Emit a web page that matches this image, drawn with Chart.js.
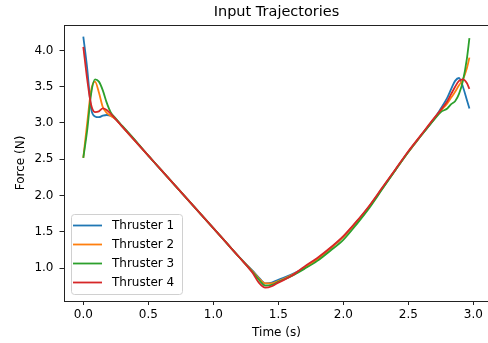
<!DOCTYPE html>
<html>
<head>
<meta charset="utf-8">
<script src="https://cdn.jsdelivr.net/npm/chart.js@4"></script>
<style>
    html, body { margin: 0; padding: 0; background: #fff; overflow: hidden; }
    #wrap { width: 488px; height: 343px; overflow: hidden; }
</style>
</head>
<body>
<div id="wrap"><canvas id="trajChart" width="552" height="343"></canvas></div>
<script>
// time stamps (s)
const times = [0, 0.03, 0.06, 0.09, 0.12, 0.15, 0.18, 0.21,
    0.25, 0.3, 0.4, 0.5, 0.6, 0.7, 0.8, 0.9, 1.0, 1.1, 1.2, 1.3,
    1.35, 1.4, 1.45, 1.5, 1.6, 1.7, 1.8, 1.9, 2.0, 2.1, 2.2, 2.3, 2.4, 2.5, 2.6, 2.7, 2.75,
    2.8, 2.83, 2.86, 2.89, 2.92, 2.95, 2.97];

// force per thruster (N)
const thruster1 = [4.19, 3.75, 3.2, 3.09, 3.08, 3.1, 3.11, 3.1,
    3.05, 2.95, 2.75, 2.55, 2.35, 2.15, 1.95, 1.75, 1.55, 1.35, 1.15, 0.97,
    0.87, 0.79, 0.8, 0.84, 0.91, 1.0, 1.12, 1.27, 1.43, 1.63, 1.85, 2.1, 2.35, 2.6, 2.83, 3.06, 3.2,
    3.35, 3.47, 3.58, 3.62, 3.5, 3.32, 3.2];
const thruster2 = [2.52, 3.0, 3.45, 3.57, 3.42, 3.22, 3.14, 3.1,
    3.05, 2.95, 2.75, 2.55, 2.35, 2.15, 1.95, 1.75, 1.55, 1.35, 1.15, 0.96,
    0.86, 0.79, 0.79, 0.82, 0.9, 1.0, 1.12, 1.27, 1.43, 1.63, 1.85, 2.1, 2.35, 2.6, 2.83, 3.06, 3.17,
    3.27, 3.35, 3.43, 3.52, 3.6, 3.75, 3.9];
const thruster3 = [2.52, 2.9, 3.4, 3.6, 3.57, 3.45, 3.28, 3.15,
    3.06, 2.96, 2.76, 2.55, 2.35, 2.15, 1.95, 1.75, 1.55, 1.35, 1.15, 0.95,
    0.84, 0.76, 0.77, 0.81, 0.89, 0.99, 1.1, 1.24, 1.39, 1.6, 1.83, 2.09, 2.35, 2.6, 2.83, 3.05, 3.15,
    3.2, 3.26, 3.3, 3.4, 3.58, 3.88, 4.17];
const thruster4 = [4.05, 3.6, 3.25, 3.15, 3.16, 3.2, 3.18, 3.13,
    3.05, 2.95, 2.75, 2.55, 2.35, 2.15, 1.95, 1.75, 1.55, 1.35, 1.15, 0.94,
    0.8, 0.73, 0.75, 0.8, 0.89, 1.02, 1.14, 1.28, 1.44, 1.64, 1.86, 2.11, 2.36, 2.61, 2.84, 3.07, 3.18,
    3.3, 3.4, 3.5, 3.58, 3.6, 3.55, 3.47];

const seriesNames = ['Thruster 1', 'Thruster 2', 'Thruster 3', 'Thruster 4'];
const seriesColors = ['#1f77b4', '#ff7f0e', '#2ca02c', '#d62728'];
const xTicks = [0, 0.5, 1.0, 1.5, 2.0, 2.5, 3.0];
const yTicks = [1.0, 1.5, 2.0, 2.5, 3.0, 3.5, 4.0];
const chartTitle = 'Input Trajectories';

Chart.defaults.font.family = "'DejaVu Sans', sans-serif";
Chart.defaults.font.size = 12;
Chart.defaults.color = '#000';

// title centred over the (uncropped) axes + top spine
const framePlugin = {
    id: 'frame',
    afterDraw(chart) {
        const { ctx, chartArea: a } = chart;
        ctx.save();
        ctx.strokeStyle = '#222';
        ctx.lineWidth = 1;
        ctx.beginPath();
        ctx.moveTo(a.left, Math.round(a.top) + 0.5);
        ctx.lineTo(a.right, Math.round(a.top) + 0.5);
        ctx.stroke();
        ctx.font = "14.5px 'DejaVu Sans', sans-serif";
        ctx.fillStyle = '#000';
        ctx.textAlign = 'center';
        ctx.textBaseline = 'middle';
        ctx.fillText(chartTitle, 276.5, 12.5);
        ctx.restore();
    }
};

// legend box in lower-left corner of the axes
const boxLegend = {
    id: 'boxLegend',
    afterDraw(chart) {
        const { ctx, chartArea: a } = chart;
        const x0 = a.left + 7, y0 = a.bottom - 87, w = 111, h = 80;
        ctx.save();
        ctx.fillStyle = 'rgba(255,255,255,0.8)';
        ctx.strokeStyle = '#d0d0d0';
        ctx.lineWidth = 1;
        ctx.beginPath();
        ctx.roundRect(x0 + 0.5, y0 + 0.5, w, h, 3);
        ctx.fill();
        ctx.stroke();
        ctx.font = "12px 'DejaVu Sans', sans-serif";
        ctx.textBaseline = 'middle';
        ctx.fillStyle = '#000';
        chart.data.datasets.forEach((ds, i) => {
            const y = y0 + 11.5 + i * 19;
            ctx.strokeStyle = ds.borderColor;
            ctx.lineWidth = 1.8;
            ctx.beginPath();
            ctx.moveTo(x0 + 2, y);
            ctx.lineTo(x0 + 31, y);
            ctx.stroke();
            ctx.fillText(ds.label, x0 + 41, y);
        });
        ctx.restore();
    }
};

const allSeries = [thruster1, thruster2, thruster3, thruster4];

new Chart(document.getElementById('trajChart'), {
    type: 'line',
    data: {
        datasets: allSeries.map((s, i) => ({
            label: seriesNames[i],
            data: times.map((t, j) => ({ x: t, y: s[j] })),
            borderColor: seriesColors[i],
            backgroundColor: seriesColors[i],
            borderWidth: 1.8,
            pointRadius: 0,
            cubicInterpolationMode: 'monotone',
            order: 3 - i
        }))
    },
    options: {
        responsive: false,
        animation: false,
        layout: { padding: { top: 25, right: 43 } },
        plugins: {
            legend: { display: false },
            tooltip: { enabled: false },
            title: { display: false }
        },
        scales: {
            x: {
                type: 'linear',
                min: -0.1485,
                max: 3.2745,
                afterFit: s => { s.height = 42; },
                afterBuildTicks: s => { s.ticks = xTicks.map(v => ({ value: v })); },
                ticks: { callback: v => v.toFixed(1), padding: 2.5, maxRotation: 0 },
                grid: { display: true, drawOnChartArea: false, drawTicks: true, tickLength: 4, color: '#222' },
                border: { display: true, color: '#222', width: 1 },
                title: { display: false }
            },
            y: {
                type: 'linear',
                min: 0.547,
                max: 4.35,
                afterFit: s => { s.width = 64; },
                afterBuildTicks: s => { s.ticks = yTicks.map(v => ({ value: v })); },
                ticks: { callback: v => v.toFixed(1), padding: 6 },
                grid: { display: true, drawOnChartArea: false, drawTicks: true, tickLength: 4.5, color: '#222' },
                border: { display: true, color: '#222', width: 1 },
                title: { display: true, text: 'Force (N)', padding: { top: 13.5, bottom: 0 } }
            }
        }
    },
    plugins: [framePlugin, boxLegend, {
        id: 'xTitle',
        afterDraw(chart) {
            const ctx = chart.ctx;
            ctx.save();
            ctx.font = "12px 'DejaVu Sans', sans-serif";
            ctx.fillStyle = '#000';
            ctx.textAlign = 'center';
            ctx.textBaseline = 'middle';
            ctx.fillText('Time (s)', 276.5, 332.5);
            ctx.restore();
        }
    }]
});
</script>
</body>
</html>
